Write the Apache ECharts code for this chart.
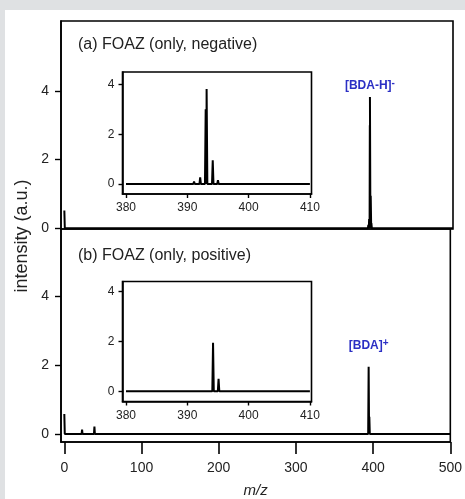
<!DOCTYPE html>
<html>
<head>
<meta charset="utf-8">
<script src="https://cdn.jsdelivr.net/npm/echarts@6/dist/echarts.min.js"></script>
<style>
  html, body { margin: 0; padding: 0; background: #dfe1e3; }
  #paper { position: absolute; left: 5px; top: 10px; width: 460px; height: 489px; background: #fff; }
  #chart { position: absolute; left: 0; top: 0; width: 465px; height: 499px; }
</style>
</head>
<body>
<div id="paper"></div>
<div id="chart"></div>
<script>
// peaks: m/z and intensity (a.u.)
var negMz     = [0, 149, 391.1, 392.1, 393.0, 393.15, 394.15, 395.0]
var negHeight = [0.52, 0.05, 0.10, 0.27, 3.0, 3.82, 0.95, 0.15]
var posMz     = [0, 23, 39, 394.2, 395.1, 396.0]
var posHeight = [0.58, 0.13, 0.22, 1.95, 0.50, 0.05]

var mainTicks  = [0, 100, 200, 300, 400, 500]
var insetTicks = [380, 390, 400, 410]
var yTicks     = [0, 2, 4]

var panelTitles = ['(a) FOAZ (only, negative)', '(b) FOAZ (only, positive)']
var ionNames    = ['[BDA-H]', '[BDA]']
var ionCharges  = ['-', '+']

var FONT = '"Liberation Sans", Arial, sans-serif'
var BLUE = '#2b2fc4'

// stick spectrum: baseline from `from` to `to`, a thin triangle per peak
function spectrum(mz, h, from, to, w) {
  var pts = [[from, 0]]
  for (var i = 0; i < mz.length; i++) {
    if (mz[i] < from || mz[i] > to) continue
    if (mz[i] - w <= from) {
      pts[0] = [from, h[i]]
      pts.push([mz[i] + w, 0])
    } else {
      pts.push([mz[i] - w, 0], [mz[i], h[i]], [mz[i] + w, 0])
    }
  }
  pts.push([to, 0])
  return pts
}

function peakOf(mz, h) {
  var k = 0
  for (var i = 0; i < h.length; i++) if (h[i] > h[k]) k = i
  return [mz[k], h[k]]
}

function xAxisMain(grid, visible) {
  return {
    type: 'value', gridIndex: grid, min: -4.3, max: 500,
    splitLine: {show: false},
    axisLine: {show: visible, onZero: false, lineStyle: {color: '#000', width: 1.6}},
    axisTick: {show: visible, length: 12, customValues: mainTicks, lineStyle: {color: '#000', width: 1.6}},
    axisLabel: {show: visible, customValues: mainTicks, fontSize: 14, margin: 19, color: '#222', fontFamily: FONT},
    name: visible ? 'm/z' : '', nameLocation: 'middle', nameGap: 41,
    nameTextStyle: {fontSize: 15, fontStyle: 'italic', color: '#222', fontFamily: FONT}
  }
}

function xAxisInset(grid) {
  return {
    type: 'value', gridIndex: grid, min: 379.43, max: 410.26,
    splitLine: {show: false},
    axisLine: {onZero: false, lineStyle: {color: '#000', width: 1.6}},
    axisTick: {length: 4, customValues: insetTicks, lineStyle: {color: '#000', width: 1.4}},
    axisLabel: {customValues: insetTicks, fontSize: 12, margin: 8, color: '#222', fontFamily: FONT}
  }
}

function yAxis(grid, min, max, inset) {
  return {
    type: 'value', gridIndex: grid, min: min, max: max,
    splitLine: {show: false},
    axisLine: {onZero: false, lineStyle: {color: '#000', width: 1.6}},
    axisTick: {length: inset ? 4 : 6, customValues: yTicks, lineStyle: {color: '#000', width: 1.4}},
    axisLabel: {customValues: yTicks, fontSize: inset ? 12 : 14, margin: inset ? 8 : 12, color: '#222', fontFamily: FONT}
  }
}

function ionLabel(k, pos, dist) {
  return {
    symbol: 'circle', symbolSize: 0, silent: true,
    data: [{coord: pos}],
    label: {
      show: true, position: 'top', distance: dist,
      formatter: '{m|' + ionNames[k] + '}{s|' + ionCharges[k] + '}',
      rich: {
        m: {fontSize: 12, fontWeight: 'bold', color: BLUE, fontFamily: FONT, lineHeight: 16},
        s: {fontSize: 10, fontWeight: 'bold', color: BLUE, fontFamily: FONT, verticalAlign: 'top', lineHeight: 10}
      }
    }
  }
}

function line(xi, data, width, mark) {
  var s = {
    type: 'line', xAxisIndex: xi, yAxisIndex: xi, data: data,
    showSymbol: false, symbol: 'none', silent: true,
    lineStyle: {color: '#000', width: width}
  }
  if (mark) s.markPoint = mark
  return s
}

var gridBorder = {show: true, borderColor: '#000', borderWidth: 1.6}

var chart = echarts.init(document.getElementById('chart'))
chart.setOption({
  animation: false,
  textStyle: {fontFamily: FONT},
  grid: [
    Object.assign({left: 61, top: 21, width: 392, height: 208}, gridBorder),
    Object.assign({left: 61, top: 229, width: 392, height: 214}, gridBorder),
    Object.assign({left: 122.5, top: 72, width: 189, height: 122, backgroundColor: '#fff'}, gridBorder),
    Object.assign({left: 122.5, top: 281.5, width: 189, height: 120, backgroundColor: '#fff'}, gridBorder)
  ],
  xAxis: [xAxisMain(0, false), xAxisMain(1, true), xAxisInset(2), xAxisInset(3)],
  yAxis: [
    yAxis(0, -0.02, 6.03, false),
    yAxis(1, -0.23, 5.95, false),
    yAxis(2, -0.4, 4.5, true),
    yAxis(3, -0.41, 4.41, true)
  ],
  series: [
    line(0, spectrum(negMz, negHeight, 0, 500, 0.6), 2, ionLabel(0, peakOf(negMz, negHeight), 3)),
    line(1, spectrum(posMz, posHeight, 0, 500, 0.6), 2, ionLabel(1, peakOf(posMz, posHeight), 13)),
    line(2, spectrum(negMz, negHeight, 380, 410, 0.12), 2),
    line(3, spectrum(posMz, posHeight, 380, 410, 0.12), 2)
  ],
  graphic: [
    {type: 'text', left: 78, top: 37, style: {text: panelTitles[0], fontSize: 16, fill: '#222', fontFamily: FONT}},
    {type: 'text', left: 78, top: 248, style: {text: panelTitles[1], fontSize: 16, fill: '#222', fontFamily: FONT}},
    {type: 'text', x: 22, y: 236, rotation: Math.PI / 2,
     style: {text: 'intensity (a.u.)', fontSize: 18, fill: '#222', fontFamily: FONT, align: 'center', verticalAlign: 'middle'}}
  ]
})
</script>
</body>
</html>
